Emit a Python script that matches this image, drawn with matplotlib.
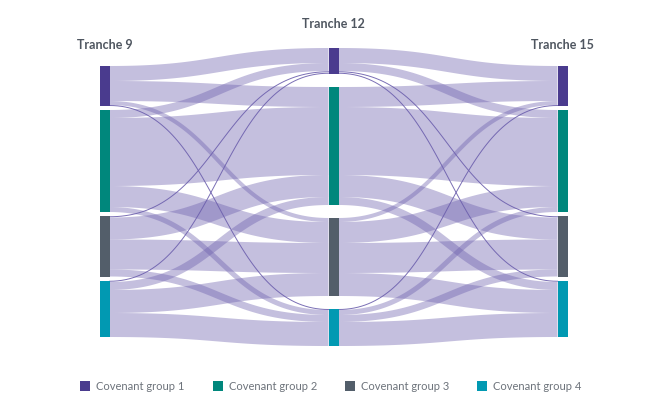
import matplotlib.pyplot as plt
import numpy as np

plt.rcParams['font.family'] = ['Lato', 'DejaVu Sans']

# data
tranches = ["Tranche 9", "Tranche 12", "Tranche 15"]
groups = ["Covenant group 1", "Covenant group 2", "Covenant group 3", "Covenant group 4"]
group_colors = ["#4a3b8e", "#00877c", "#535e6a", "#0199b2"]

# rows = group in the earlier tranche, columns = group in the later one
flows_9_to_12 = [
    [15, 20, 4, 1],
    [8, 68, 21, 5],
    [1.5, 22, 30, 7],
    [1.5, 8, 23, 24],
]
flows_12_to_15 = [
    [15, 8, 1.5, 1.5],
    [20, 68, 22, 8],
    [4, 21, 30, 23],
    [1, 5, 7, 24],
]

# layout (pixels)
W, H = 670, 418
col_x = [99.5, 328.5, 557.5]
node_w = 10
col_span = [(66, 337), (48, 346), (66, 337)]
label_y = [45, 24, 45]
link_color = "#6c5fad"
text_dark = "#4f5660"
text_grey = "#6d737b"

f1 = np.array(flows_9_to_12, dtype=float)
f2 = np.array(flows_12_to_15, dtype=float)
col_values = [f1.sum(axis=1), f1.sum(axis=0), f2.sum(axis=0)]

# pixels per unit from the tightest column
k = min((b - t - 3 * 4) / v.sum() for (t, b), v in zip(col_span, col_values))

node_top = []
for (top, bottom), vals in zip(col_span, col_values):
    pad = (bottom - top - vals.sum() * k) / (len(vals) - 1)
    tops = []
    y = top
    for v in vals:
        tops.append(y)
        y += v * k + pad
    node_top.append(tops)

fig = plt.figure(figsize=(W / 100, H / 100), dpi=100)
ax = fig.add_axes([0, 0, 1, 1])
ax.set_xlim(0, W)
ax.set_ylim(H, 0)
ax.axis('off')

t = np.linspace(0, 1, 80)


def bezier(x0, y0, x1, y1):
    xm = (x0 + x1) / 2
    xs = (1 - t) ** 3 * x0 + 3 * (1 - t) ** 2 * t * xm + 3 * (1 - t) * t ** 2 * xm + t ** 3 * x1
    ys = (1 - t) ** 3 * y0 + 3 * (1 - t) ** 2 * t * y0 + 3 * (1 - t) * t ** 2 * y1 + t ** 3 * y1
    return xs, ys


for c, flows in enumerate([f1, f2]):
    n_src, n_tgt = flows.shape
    # target offsets ordered by source index
    tgt_start = np.zeros((n_src, n_tgt))
    for j in range(n_tgt):
        y = node_top[c + 1][j]
        for i in range(n_src):
            tgt_start[i, j] = y
            y += flows[i, j] * k
    # source offsets ordered by target index
    for i in range(n_src):
        y = node_top[c][i]
        for j in range(n_tgt):
            w = flows[i, j] * k
            y0 = y + w / 2
            y1 = tgt_start[i, j] + w / 2
            y += w
            xs, ys = bezier(col_x[c] + node_w, y0, col_x[c + 1], y1)
            if w < 2:
                ax.plot(xs, ys, color=link_color, lw=0.7, alpha=0.9, zorder=2)
            else:
                ax.plot(xs, ys, color=link_color, lw=w * 72 / 100, alpha=0.4,
                        solid_capstyle='butt', zorder=1)

for c in range(3):
    for g, v in enumerate(col_values[c]):
        ax.add_patch(plt.Rectangle((col_x[c], node_top[c][g]), node_w, v * k,
                                   color=group_colors[g], lw=0, zorder=3))
    ax.text(col_x[c] + node_w / 2, label_y[c], tranches[c], ha='center', va='center',
            fontsize=9, fontweight='bold', color=text_dark)

# legend
leg_x = [80, 213, 345, 477]
for g in range(4):
    ax.add_patch(plt.Rectangle((leg_x[g], 381), 10, 10, color=group_colors[g], lw=0))
    ax.text(leg_x[g] + 16, 386.5, groups[g], ha='left', va='center', fontsize=8,
            color=text_grey)

fig.savefig("out.png", dpi=100)
